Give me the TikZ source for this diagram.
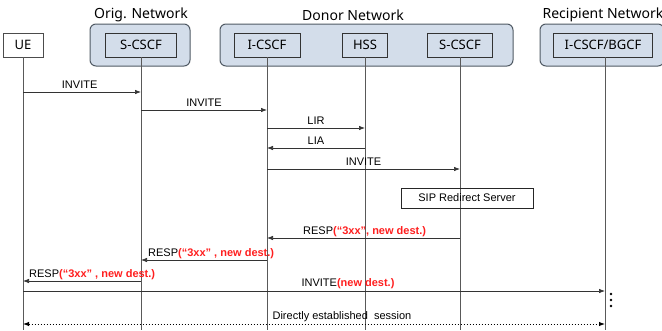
\documentclass[tikz,border=0pt]{standalone}
\usepackage{fontspec}
\setmainfont{Noto Sans}
\newfontfamily\msgfont{Liberation Sans}
\usetikzlibrary{arrows.meta}
\definecolor{netfill}{HTML}{D3DDEA}
\definecolor{netdraw}{HTML}{505A64}
\definecolor{msgred}{HTML}{FF1E1E}
\tikzset{
  net/.style={draw=netdraw, line width=1pt, fill=netfill, rounded corners=6pt},
  ent/.style={draw=black!80, line width=0.8pt, fill=netfill, minimum height=24pt, inner sep=0pt, font=\fontsize{13}{15}\selectfont},
  uebox/.style={draw=black!70, line width=0.6pt, fill=white, minimum height=24pt, inner sep=0pt, font=\fontsize{13}{15}\selectfont},
  title/.style={font=\fontsize{14}{16}\selectfont, inner sep=0pt},
  life/.style={draw=black!65, line width=0.9pt},
  msg/.style={draw=black!80, line width=0.7pt, -{Latex[length=6pt,width=4.5pt]}},
  lbl/.style={font=\msgfont\fontsize{11}{13}\selectfont, inner sep=0pt, anchor=base}
}
\newcommand{\rtxt}[1]{\textcolor{msgred}{\bfseries #1}}
\begin{document}
\begin{tikzpicture}[x=1pt,y=-1pt]
\useasboundingbox (0,0) rectangle (662,330);
% containers
\node[net, minimum width=100pt, minimum height=42pt] (orig) at (140,45) {};
\node[net, minimum width=293pt, minimum height=42pt] (donor) at (366.5,45) {};
\node[net, minimum width=124pt, minimum height=42pt] (recip) at (602,45) {};
\node[title] (origt) at (141,15) {Orig. Network};
\node[title] (donort) at (353,15) {Donor Network};
\node[title] (recipt) at (603,15) {Recipient Network};
% entities
\node[uebox, minimum width=40pt] (ue) at (23,45) {UE};
\node[ent, minimum width=71pt] (oscscf) at (141,45) {S-CSCF};
\node[ent, minimum width=66pt] (icscf) at (267,45) {I-CSCF};
\node[ent, minimum width=45pt] (hss) at (365,45) {HSS};
\node[ent, minimum width=65pt] (dscscf) at (460,45) {S-CSCF};
\node[ent, minimum width=99pt] (bgcf) at (603,45) {I-CSCF/BGCF};
% lifeline ends
\coordinate (ueE) at (23,330);
\coordinate (osE) at (141,330);
\coordinate (icE) at (267,330);
\coordinate (hsE) at (365,330);
\coordinate (dsE) at (460,330);
\coordinate (bgE) at (605,330);
\draw[life] (ue.south) -- (ueE);
\draw[life] (oscscf.south) -- (osE);
\draw[life] (icscf.south) -- (icE);
\draw[life] (hss.south) -- (hsE);
\draw[life] (dscscf.south) -- (dsE);
\draw[life] (bgcf.south -| bgE) -- (bgE);
% message points
\foreach \n/\x in {ue/23, os/141, ic/267, hs/365, ds/460, bg/605}{
  \foreach \m/\y in {a/92, b/110, c/128, d/148, e/169, f/238, g/260, h/281, i/291, j/324}{
    \coordinate (\n\m) at (\x,\y);
  }
}
% messages
\draw[msg] (uea) -- node[lbl, above=3pt, pos=0.48] (l1) {INVITE} (osa);
\draw[msg] (osb) -- node[lbl, above=3pt] (l2) {INVITE} (icb);
\draw[msg] (icc) -- node[lbl, above=3pt] (l3) {LIR} (hsc);
\draw[msg] (hsd) -- node[lbl, above=3pt] (l4) {LIA} (icd);
\draw[msg] (ice) -- node[lbl, above=3pt] (l5) {INVITE} (dse);
\node[draw=black!85, line width=0.6pt, minimum width=132pt, minimum height=20pt, inner sep=0pt, font=\msgfont\fontsize{11}{13}\selectfont] (sip) at (467,198) {SIP Redirect Server};
\draw[msg] (dsf) -- (icf);
\node[lbl, anchor=base west] (l6) at (303,234) {RESP\rtxt{(“3xx”, new dest.)}};
\draw[msg] (icg) -- (osg);
\node[lbl, anchor=base west] (l7) at (148,256) {RESP\rtxt{(“3xx” , new dest.)}};
\draw[msg] (osh) -- (ueh);
\node[lbl, anchor=base west] (l8) at (29,277) {RESP\rtxt{(“3xx” , new dest.)}};
\draw[msg] (uei) -- (bgi);
\node[lbl] (l9) at (348,286) {INVITE\rtxt{(new dest.)}};
\draw[line width=1pt, dotted, {Latex[length=6pt,width=4.5pt]}-{Latex[length=6pt,width=4.5pt]}] (uej) -- (bgj);
\node[lbl] (l10) at (342,319) {Directly established\ \ session};
% vertical dots
\foreach \yy in {294,300,306}{
  \fill (611,\yy) circle (1.3pt);
}
\end{tikzpicture}
\end{document}
